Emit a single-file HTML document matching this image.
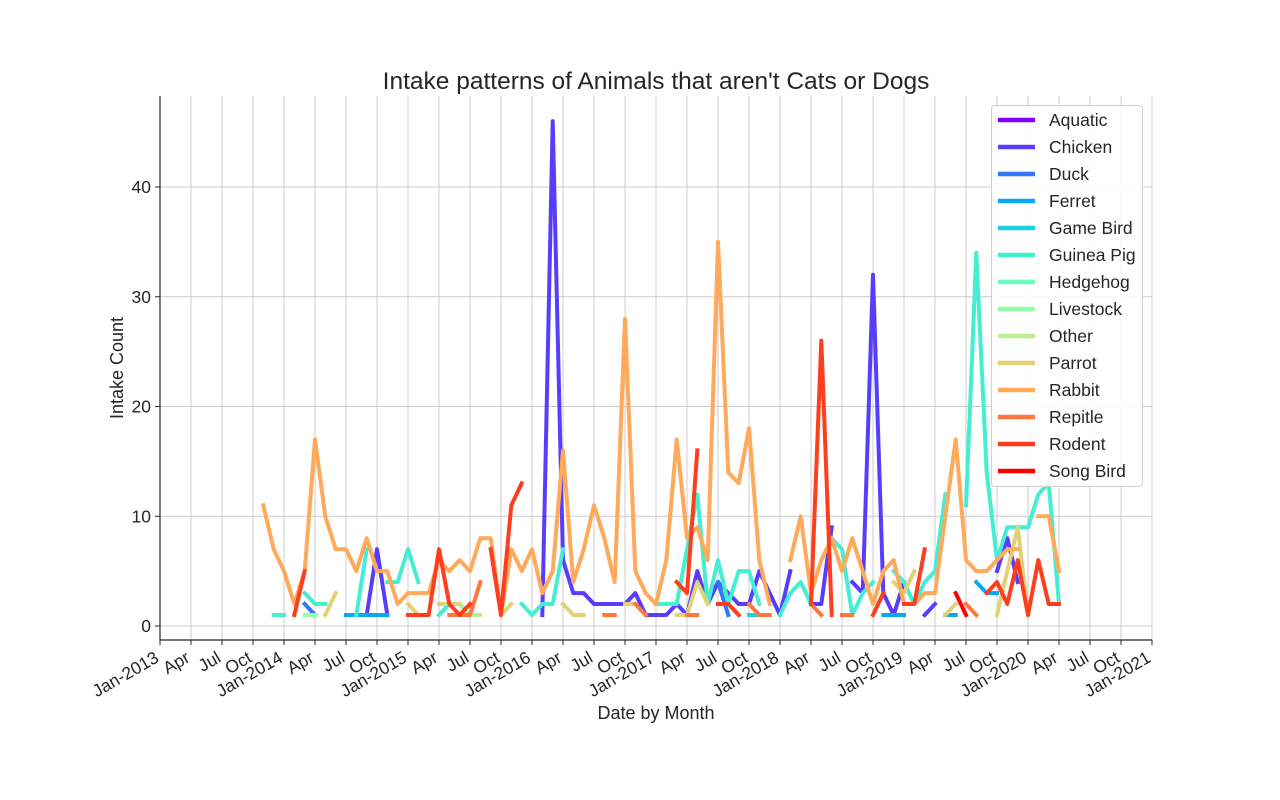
<!DOCTYPE html>
<html><head><meta charset="utf-8"><style>
html,body{margin:0;padding:0;background:#fff;}
svg{display:block;font-family:"Liberation Sans",sans-serif;}
</style></head><body>
<svg id="chart" width="1280" height="800" viewBox="0 0 1280 800" xmlns="http://www.w3.org/2000/svg">
<rect width="1280" height="800" fill="#fff"/>
<g id="grid"></g>
<g id="series"></g>
<g id="axes"></g>
<text x="656" y="89" text-anchor="middle" font-size="24.5" fill="#262626">Intake patterns of Animals that aren't Cats or Dogs</text>
<text x="656" y="719" text-anchor="middle" font-size="18" fill="#262626">Date by Month</text>
<text transform="translate(123,368) rotate(-90)" text-anchor="middle" font-size="18" fill="#262626">Intake Count</text>
<g id="legend"></g>
</svg>
<script>
// month index 0 = Jan-2013; null = no data
const seriesNames = ["Aquatic","Chicken","Duck","Ferret","Game Bird","Guinea Pig","Hedgehog","Livestock","Other","Parrot","Rabbit","Repitle","Rodent","Song Bird"];
const seriesColors = ["#8000ff","#583dfd","#3177f8","#0aa9ee","#1dd2e2","#45eed2","#6cfdbf","#93fda9","#baee91","#e2d277","#ffa95a","#ff773d","#ff3d1f","#ff0000"];
const yTicks = [0,10,20,30,40];
const xTickLabels = ["Jan-2013","Apr","Jul","Oct","Jan-2014","Apr","Jul","Oct","Jan-2015","Apr","Jul","Oct","Jan-2016","Apr","Jul","Oct","Jan-2017","Apr","Jul","Oct","Jan-2018","Apr","Jul","Oct","Jan-2019","Apr","Jul","Oct","Jan-2020","Apr","Jul","Oct","Jan-2021"];
const aquaticStart = 0;  const aquatic = [];
const chickenStart = 20; const chicken = [1,7,1,null,null,null,null,null,null,null,null,null,null,null,null,null,null,1,46,6,3,3,2,2,2,2,3,1,1,1,2,1,5,2,4,3,2,2,5,3,1,5,null,2,2,9,null,4,3,32,3,1,4,null,1,2,null,null,null,null,null,5,8,4];
const duckStart = 14;    const duck = [2,1,null,null,null,null,null,null,null,null,null,null,null,null,null,null,null,null,null,null,null,null,null,null,null,null,null,null,null,null,null,null,null,null,null,null,null,null,null,null,4,1];
const ferretStart = 18;  const ferret = [1,1,1,1,1,null,null,null,null,null,null,null,null,null,null,null,null,null,null,null,null,null,null,null,null,null,null,null,null,null,null,null,null,null,null,null,null,null,null,1,1,null,null,null,null,null,null,null,null,null,null,null,1,1,1,null,null,null,1,1,null,4,3,3];
const gameBirdStart = 57; const gameBird = [1,1,1];
const guineaPigStart = 11; const guineaPig = [1,1,null,3,2,2,null,null,1,7,null,4,4,7,4,null,1,2,2,1,null,null,null,null,2,1,2,2,7,null,null,null,null,null,null,null,null,2,2,2,7,12,2,6,2,5,5,2,null,1,3,4,2,null,8,7,1,3,4,null,5,4,2,4,5,12,null,11,34,14,6,9,9,9,12,13,2];
const hedgehogStart = 0; const hedgehog = [];
const livestockStart = 14; const livestock = [1,1];
const otherStart = 29;   const other = [2,1,1];
const parrotStart = 16;  const parrot = [1,3,null,null,null,null,null,null,2,1,null,2,2,2,null,null,null,1,2,null,null,null,null,2,1,1,null,null,null,2,2,null,4,null,1,1,4,2,null,null,null,null,null,null,null,null,null,null,null,null,null,null,3,null,null,4,3,5,null,null,1,2,null,null,null,1,5,9,1];
const rabbitStart = 10;  const rabbit = [11,7,5,2,5,17,10,7,7,5,8,5,5,2,3,3,3,6,5,6,5,8,8,1,7,5,7,3,5,16,4,7,11,8,4,28,5,3,2,6,17,8,9,6,35,14,13,18,6,2,null,6,10,3,6,8,5,8,5,2,5,6,2,2,3,3,10,17,6,5,5,6,7,7,null,10,10,5];
const reptileStart = 28; const reptile = [1,1,1,4,null,null,null,null,null,null,null,null,null,null,null,1,1,null,2,1,null,null,null,1,1,null,null,null,null,2,1,1,null,null,null,2,1,null,1,1,null,null,null,null,null,null,null,null,null,null,2,1,null,null,null,1,null,3];
const rodentStart = 13;  const rodent = [1,5,null,null,null,null,null,null,null,null,null,1,1,1,7,2,1,2,null,7,1,11,13,null,null,null,null,null,null,null,null,null,null,null,null,null,null,4,3,16,null,2,2,1,null,null,null,null,null,null,2,26,1,null,null,null,1,3,null,2,2,7,null,null,null,null,null,3,4,2,6,1,6,2,2];
const songBirdStart = 77; const songBird = [3,1];

const allSeries = [[aquaticStart,aquatic],[chickenStart,chicken],[duckStart,duck],[ferretStart,ferret],[gameBirdStart,gameBird],[guineaPigStart,guineaPig],[hedgehogStart,hedgehog],[livestockStart,livestock],[otherStart,other],[parrotStart,parrot],[rabbitStart,rabbit],[reptileStart,reptile],[rodentStart,rodent],[songBirdStart,songBird]];

const NS="http://www.w3.org/2000/svg";
const X0=160,X1=1152,Y0=640,Y1=96;
function xScale(m){return X0+(X1-X0)*m/96;}
function yScale(v){return 626-v*(626-187)/40;}
function mk(tag,attrs,parent){const e=document.createElementNS(NS,tag);for(const k in attrs)e.setAttribute(k,attrs[k]);parent.appendChild(e);return e;}

const grid=document.getElementById('grid');
xTickLabels.forEach((lab,i)=>{
  const x=xScale(i*3);
  const l=mk('line',{x1:x,x2:x,y1:Y1,y2:Y0,stroke:'#cccccc','stroke-width':1},grid);
  
  
});
yTicks.forEach(v=>{
  const y=yScale(v);
  const l=mk('line',{x1:X0,x2:X1,y1:y,y2:y,stroke:'#cccccc','stroke-width':1},grid);
  
  
});

const sg=document.getElementById('series');
allSeries.forEach((s,si)=>{
  const [start,vals]=s;
  let d='';let pen=false;
  vals.forEach((v,i)=>{
    if(v===null||v===undefined){pen=false;return;}
    const x=xScale(start+i),y=yScale(v);
    d+=(pen?'L':'M')+x.toFixed(1)+' '+y.toFixed(1);
    pen=true;
  });
  if(!d)return;
  const p=mk('path',{d:d,fill:'none',stroke:seriesColors[si],'stroke-width':4,'stroke-linecap':'square','stroke-linejoin':'round'},sg);
  
  
});

const ax=document.getElementById('axes');
const sl=mk('line',{x1:X0,x2:X0,y1:Y1,y2:Y0,stroke:'#262626','stroke-width':1.2},ax);


const sb=mk('line',{x1:X0,x2:X1,y1:Y0,y2:Y0,stroke:'#262626','stroke-width':1.2},ax);


yTicks.forEach(v=>{
  const y=yScale(v);
  mk('line',{x1:X0-5,x2:X0,y1:y,y2:y,stroke:'#262626','stroke-width':1},ax);
  const t=mk('text',{x:X0-9,y:y+6,'text-anchor':'end','font-size':17.5,fill:'#262626'},ax);
  t.textContent=v;
  
  
});
xTickLabels.forEach((lab,i)=>{
  const x=xScale(i*3);
  mk('line',{x1:x,x2:x,y1:Y0,y2:Y0+5,stroke:'#262626','stroke-width':1},ax);
  const t=mk('text',{transform:'translate('+(x)+',661) rotate(-30)','text-anchor':'end','font-size':17.5,fill:'#262626'},ax);
  t.textContent=lab;
  
  
});

const lg=document.getElementById('legend');
const box=mk('rect',{x:991.5,y:105.5,width:151,height:381,rx:3,fill:'#fff','fill-opacity':0.85,stroke:'#d0d0d0','stroke-width':1},lg);


seriesNames.forEach((n,i)=>{
  const y=120+i*27;
  const g=mk('g',{},lg);
  
  
  mk('line',{x1:998,x2:1035,y1:y,y2:y,stroke:seriesColors[i],'stroke-width':4.5},g);
  const t=mk('text',{x:1049,y:y+6,'font-size':17.5,fill:'#262626'},g);
  t.textContent=n;
});
</script>
</body></html>
